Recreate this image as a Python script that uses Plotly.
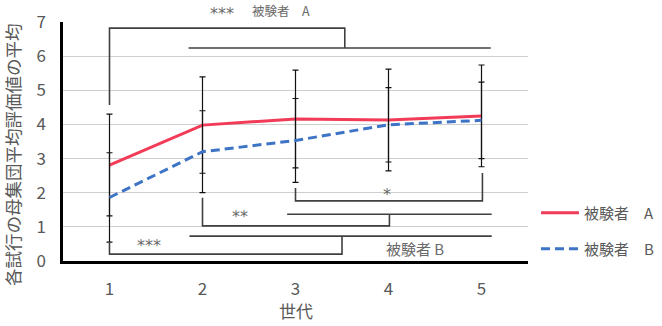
import plotly.graph_objects as go

# ---- data ----
generations = [1, 2, 3, 4, 5]
gen_labels = ["1", "2", "3", "4", "5"]
mean_a = [2.81, 3.98, 4.16, 4.13, 4.25]
err_a = [1.49, 1.41, 1.43, 1.49, 1.49]
mean_b = [1.86, 3.20, 3.53, 3.99, 4.12]
err_b = [1.31, 1.20, 1.23, 1.09, 1.12]
y_ticks = [0, 1, 2, 3, 4, 5, 6, 7]

name_a = "被験者\u3000A"
name_b = "被験者\u3000B"

# significance brackets (data coordinates): list of (xs, ys)
brackets = [
    ([1, 1, 3.53, 3.53], [4.57, 6.82, 6.82, 6.24]),
    ([1.85, 5.10], [6.24, 6.24]),
    ([1, 1, 3.50, 3.50], [0.53, 0.20, 0.20, 0.73]),
    ([1.86, 5.11], [0.73, 0.73]),
    ([2, 2, 4.01, 4.01], [1.85, 1.03, 1.03, 1.37]),
    ([2.91, 5.11], [1.37, 1.37]),
    ([3, 3, 5.01, 5.01], [2.14, 1.76, 1.76, 2.58]),
]
# significance labels: (x, y, text, size, font)  -- x, y in data units
FONT = "Noto Sans CJK JP"
STAR_FONT = "DejaVu Sans"
sig_labels = [
    (2.215, 7.24, "***", 16, STAR_FONT),
    (2.845, 7.35, "被験者\u3000A", 12.5, FONT),
    (1.43, 0.44, "***", 16, STAR_FONT),
    (4.28, 0.38, "被験者 B", 15, FONT),
    (2.40, 1.29, "**", 16, STAR_FONT),
    (3.98, 1.96, "*", 16, STAR_FONT),
]

GRAY = "#595959"
Y_MAX = 7

fig = go.Figure()
fig.add_trace(go.Scatter(
    x=generations, y=mean_a, mode="lines", name=name_a,
    line=dict(color="#F23B57", width=3),
    error_y=dict(type="data", array=err_a, color="#111111", thickness=1.2, width=3),
    legend="legend",
))
fig.add_trace(go.Scatter(
    x=generations, y=mean_b, mode="lines", name=name_b,
    line=dict(color="#3E74C6", width=3, dash="9px,5px"),
    error_y=dict(type="data", array=err_b, color="#111111", thickness=1.2, width=3),
    legend="legend2",
))

shapes = []
for xs, ys in brackets:
    path = "M " + " L ".join(f"{x},{y}" for x, y in zip(xs, ys))
    shapes.append(dict(type="path", path=path, xref="x", yref="y",
                       line=dict(color="#404040", width=1.6), layer="above"))

annotations = []
for x, y, t, s, f in sig_labels:
    annotations.append(dict(x=x, y=y / Y_MAX, xref="x", yref="paper", text=t, showarrow=False,
                            font=dict(family=f, size=s, color="#6A6A6A"),
                            xanchor="center", yanchor="middle"))
# axis titles
annotations.append(dict(x=(12 - 63) / 465, y=(261 - 155) / 239, xref="paper", yref="paper",
                        text="各試行の母集団平均評価値の平均", textangle=-90, showarrow=False,
                        font=dict(family=FONT, size=17.5, color=GRAY),
                        xanchor="center", yanchor="middle"))
annotations.append(dict(x=0.5, y=(261 - 310) / 239, xref="paper", yref="paper",
                        text="世代", showarrow=False,
                        font=dict(family=FONT, size=17, color=GRAY),
                        xanchor="center", yanchor="middle"))

legend_common = dict(font=dict(family=FONT, size=15, color=GRAY), bgcolor="rgba(0,0,0,0)",
                     xanchor="left", yanchor="middle", itemwidth=38, borderwidth=0)

fig.update_layout(
    width=662, height=326,
    margin=dict(l=63, r=134, t=22, b=65, autoexpand=False),
    paper_bgcolor="white", plot_bgcolor="white",
    showlegend=True,
    legend=dict(x=(536 - 63) / 465, y=(261 - 213) / 239, **legend_common),
    legend2=dict(x=(536 - 63) / 465, y=(261 - 249) / 239, **legend_common),
    xaxis=dict(range=[0.5, 5.5], tickvals=generations, ticktext=gen_labels,
               showgrid=False, zeroline=False, showline=True, linecolor="black", linewidth=2.5,
               ticks="", ticklabelstandoff=11,
               tickfont=dict(family=FONT, size=17, color=GRAY), fixedrange=True),
    yaxis=dict(range=[0, Y_MAX], tickvals=y_ticks, showgrid=True, gridcolor="#CFCFCF", gridwidth=1,
               zeroline=False, showline=True, linecolor="black", linewidth=2.5,
               ticks="", ticklabelstandoff=11,
               tickfont=dict(family=FONT, size=17, color=GRAY), fixedrange=True),
    shapes=shapes, annotations=annotations,
)

fig.write_html("out.html")
